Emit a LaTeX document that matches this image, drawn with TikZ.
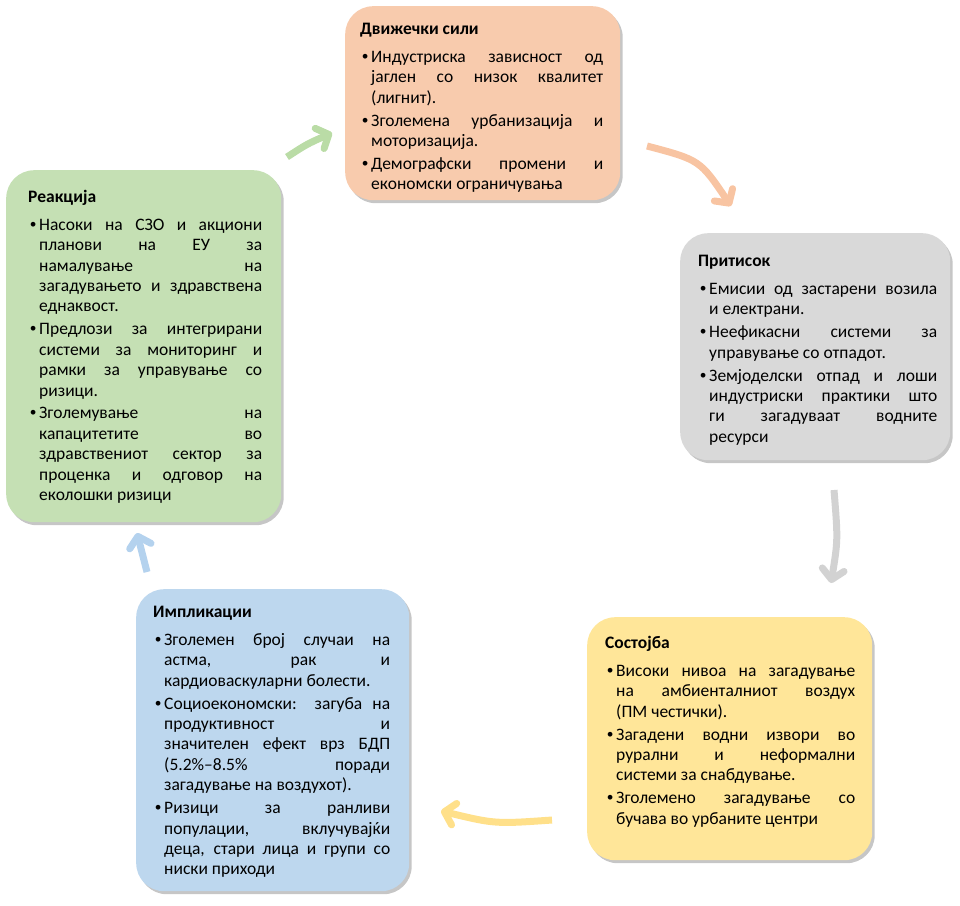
\documentclass[tikz,border=0pt]{standalone}
\usepackage{fontspec}
\setmainfont{Carlito}
\newfontfamily\dpsbulfont{Liberation Sans}
\usetikzlibrary{arrows.meta,shadows}
\definecolor{orangeF}{HTML}{F8CBAD}
\definecolor{greyF}{HTML}{D9D9D9}
\definecolor{yellowF}{HTML}{FFE699}
\definecolor{blueF}{HTML}{BDD7EE}
\definecolor{greenF}{HTML}{C5E0B4}
\definecolor{orangeA}{HTML}{F8C4A2}
\definecolor{greyA}{HTML}{D2D2D2}
\definecolor{yellowA}{HTML}{FFE08A}
\definecolor{blueA}{HTML}{B4D2EE}
\definecolor{greenA}{HTML}{BADCA6}
\newcommand\dpsitem[1]{{\leftskip=2pt\relax\hangindent=9pt\relax\hangafter=1\relax\noindent\makebox[9pt][l]{\dpsbulfont •}#1\par}}
\newcommand\dpstitle[1]{\hbadness=10000\relax\tolerance=10000\relax\hyphenpenalty=10000\relax\exhyphenpenalty=10000\relax\setlength\parskip{2.5pt}\textbf{#1}\par\vspace{5pt}}
\tikzset{
  panel/.style={rounded corners=28pt, anchor=north west, inner sep=0pt,
    drop shadow={opacity=0.45, shadow xshift=2.5pt, shadow yshift=-3pt}},
  txtbox/.style={anchor=north west, inner sep=0pt, align=justify,
    font=\fontsize{17.5}{20.4}\selectfont},
  arr/.style={line width=7pt, -{Straight Barb[length=10pt,width=22pt,round]}}
}
\begin{document}
\begin{tikzpicture}[x=1pt,y=-1pt]
\useasboundingbox (0,0) rectangle (960,905);
% panels
\node[panel, fill=orangeF, minimum width=275pt, minimum height=194pt] (drivers) at (345,6) {};
\node[panel, fill=greyF, minimum width=270pt, minimum height=227pt] (pressure) at (680,233) {};
\node[panel, fill=yellowF, minimum width=285pt, minimum height=243pt] (state) at (587,617) {};
\node[panel, fill=blueF, minimum width=273pt, minimum height=302pt] (impacts) at (136,589) {};
\node[panel, fill=greenF, minimum width=275pt, minimum height=352pt] (response) at (6,170) {};
% texts
\node[txtbox, text width=243pt] (driversT) at (360,23) {\dpstitle{Движечки сили}%
\dpsitem{Индустриска зависност од\linebreak јаглен со низок квалитет\linebreak (лигнит).}%
\dpsitem{Зголемена урбанизација и\linebreak моторизација.}%
\dpsitem{Демографски промени и\linebreak економски ограничувања}};
\node[txtbox, text width=239pt] (pressureT) at (698,255) {\dpstitle{Притисок}%
\dpsitem{Емисии од застарени возила\linebreak и електрани.}%
\dpsitem{Неефикасни системи за\linebreak управување со отпадот.}%
\dpsitem{Земјоделски отпад и лоши\linebreak индустриски практики што\linebreak ги загадуваат водните\linebreak ресурси}};
\node[txtbox, text width=250pt] (stateT) at (605,636) {\dpstitle{Состојба}%
\dpsitem{Високи нивоа на загадување\linebreak на амбиенталниот воздух\linebreak (ПМ честички).}%
\dpsitem{Загадени водни извори во\linebreak рурални и неформални\linebreak системи за снабдување.}%
\dpsitem{Зголемено загадување со\linebreak бучава во урбаните центри}};
\node[txtbox, text width=237pt] (impactsT) at (153,606) {\dpstitle{Импликации}%
\dpsitem{Зголемен број случаи на\linebreak астма, рак и\linebreak кардиоваскуларни болести.}%
\dpsitem{Социоекономски: загуба на\linebreak продуктивност и\linebreak значителен ефект врз БДП\linebreak (5.2\%–8.5\% поради\linebreak загадување на воздухот).}%
\dpsitem{Ризици за ранливи\linebreak популации, вклучувајќи\linebreak деца, стари лица и групи со\linebreak ниски приходи}};
\node[txtbox, text width=234pt] (responseT) at (28,190) {\dpstitle{Реакција}%
\dpsitem{Насоки на СЗО и акциони\linebreak планови на ЕУ за\linebreak намалување на\linebreak загадувањето и здравствена\linebreak еднаквост.}%
\dpsitem{Предлози за интегрирани\linebreak системи за мониторинг и\linebreak рамки за управување со\linebreak ризици.}%
\dpsitem{Зголемување на\linebreak капацитетите во\linebreak здравствениот сектор за\linebreak проценка и одговор на\linebreak еколошки ризици}};
% arrows
\coordinate (g1) at (287,157); \coordinate (g2) at (332,133);
\draw[arr, draw=greenA] (g1) .. controls (307,144) .. (g2);
\coordinate (o1) at (647,146); \coordinate (o2) at (731,206);
\draw[arr, draw=orangeA] (o1) .. controls (700,160) .. (o2);
\coordinate (r1) at (834,490); \coordinate (r2) at (831,583);
\draw[arr, draw=greyA] (r1) .. controls (838,540) .. (r2);
\coordinate (y1) at (552,820); \coordinate (y2) at (441,811);
\draw[arr, draw=yellowA] (y1) .. controls (495,824) .. (y2);
\coordinate (b1) at (147,572); \coordinate (b2) at (137,533);
\draw[arr, draw=blueA] (b1) -- (b2);
\end{tikzpicture}
\end{document}
